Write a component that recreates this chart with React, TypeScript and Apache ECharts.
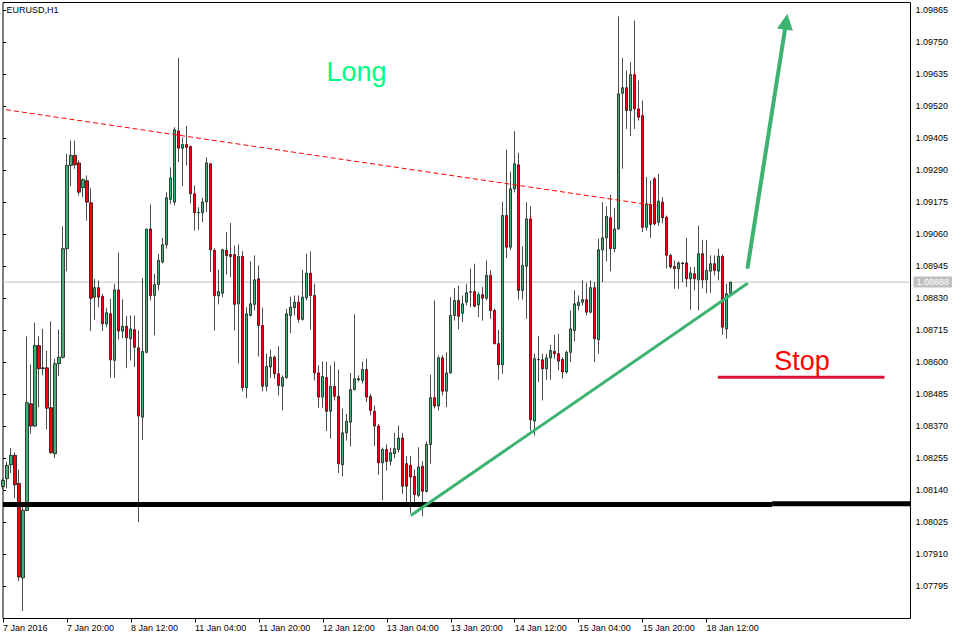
import React, { useEffect, useRef } from "react";
import * as echarts from "echarts";

// Trading sessions (day label, first hour, last hour) used for the hourly category axis
const SESSIONS: [string, number, number][] = [
  ["7 Jan", 4, 23], ["8 Jan", 0, 23], ["11 Jan", 0, 23], ["12 Jan", 0, 23],
  ["13 Jan", 0, 23], ["14 Jan", 0, 23], ["15 Jan", 0, 23], ["18 Jan", 0, 23],
  ["19 Jan", 0, 23], ["20 Jan", 0, 15],
];
const TICK_LABELS = [
  "7 Jan 2016", "7 Jan 20:00", "8 Jan 12:00", "11 Jan 04:00", "11 Jan 20:00", "12 Jan 12:00",
  "13 Jan 04:00", "13 Jan 20:00", "14 Jan 12:00", "15 Jan 04:00", "15 Jan 20:00", "18 Jan 12:00",
];
const TICK_EVERY = 16;
const Y_TICKS = [
  1.07795, 1.0791, 1.08025, 1.0814, 1.08255, 1.0837, 1.08485, 1.086, 1.08715, 1.0883,
  1.08945, 1.0906, 1.09175, 1.0929, 1.09405, 1.0952, 1.09635, 1.0975, 1.09865,
];
const Y_MIN = 1.0768;
const Y_MAX = 1.09892;
const LAST_PRICE = 1.08888;

const OPEN = [
  1.08154,1.08182,1.08232,1.08266,1.08165,1.07826,1.08068,1.08451,1.08371,1.08660,
  1.08580,1.08580,1.08437,1.08272,1.08595,1.08618,1.09008,1.09307,1.09343,1.09316,
  1.09227,1.09252,1.09173,1.08834,1.08868,1.08837,1.08738,1.08774,1.08607,1.08860,
  1.08712,1.08729,1.08685,1.08717,1.08652,1.08403,1.08636,1.09079,1.08840,1.08879,
  1.08960,1.09022,1.09185,1.09175,1.09431,1.09369,1.09382,1.09375,1.09205,1.09137,
  1.09137,1.09176,1.09313,1.09002,1.08839,1.08848,1.09002,1.08987,1.08987,1.08810,
  1.08980,1.08509,1.08768,1.08808,1.08900,1.08732,1.08514,1.08583,1.08618,1.08559,
  1.08514,1.08545,1.08768,1.08796,1.08816,1.08754,1.08832,1.08920,1.08840,1.08562,
  1.08475,1.08545,1.08424,1.08513,1.08478,1.08232,1.08347,1.08385,1.08502,1.08537,
  1.08535,1.08574,1.08477,1.08424,1.08371,1.08239,1.08287,1.08245,1.08272,1.08287,
  1.08328,1.08236,1.08230,1.08190,1.08122,1.08227,1.08136,1.08305,1.08473,1.08443,
  1.08616,1.08496,1.08562,1.08768,1.08822,1.08776,1.08816,1.08852,1.08854,1.08806,
  1.08843,1.08830,1.08912,1.08786,1.08667,1.08591,1.09127,1.09013,1.09223,1.09309,
  1.08858,1.08945,1.09115,1.08389,1.08609,1.08609,1.08577,1.08616,1.08639,1.08631,
  1.08610,1.08565,1.08636,1.08714,1.08804,1.08816,1.08825,1.08780,1.08868,1.08681,
  1.09004,1.09047,1.09119,1.09008,1.09079,1.09566,1.09586,1.09504,1.09633,1.09510,
  1.09486,1.09085,1.09167,1.09259,1.09103,1.09175,1.09121,1.08984,1.08944,1.08936,
  1.08957,1.08957,1.08900,1.08918,1.08896,1.08990,1.08896,1.08927,1.08954,1.08927,
  1.08980,1.08720,1.08846,
];
const CLOSE = [
  1.08176,1.08230,1.08266,1.08160,1.07829,1.08068,1.08455,1.08371,1.08660,1.08577,
  1.08578,1.08435,1.08275,1.08595,1.08618,1.09008,1.09307,1.09343,1.09309,1.09211,
  1.09256,1.09175,1.08830,1.08868,1.08834,1.08738,1.08778,1.08609,1.08860,1.08712,
  1.08729,1.08688,1.08720,1.08654,1.08407,1.08639,1.09078,1.08840,1.08879,1.08966,
  1.09022,1.09191,1.09262,1.09435,1.09369,1.09382,1.09372,1.09205,1.09137,1.09138,
  1.09176,1.09316,1.09004,1.08839,1.08854,1.09004,1.08983,1.08980,1.08808,1.08980,
  1.08509,1.08774,1.08810,1.08896,1.08732,1.08514,1.08585,1.08618,1.08559,1.08517,
  1.08545,1.08774,1.08798,1.08816,1.08754,1.08834,1.08920,1.08840,1.08562,1.08475,
  1.08549,1.08424,1.08513,1.08478,1.08236,1.08347,1.08388,1.08502,1.08541,1.08541,
  1.08574,1.08475,1.08427,1.08371,1.08239,1.08287,1.08244,1.08275,1.08290,1.08328,
  1.08155,1.08155,1.08188,1.08125,1.08224,1.08137,1.08305,1.08473,1.08443,1.08616,
  1.08496,1.08562,1.08768,1.08822,1.08765,1.08810,1.08850,1.08853,1.08801,1.08843,
  1.08830,1.08912,1.08786,1.08667,1.08591,1.09127,1.09013,1.09223,1.09313,1.08858,
  1.08948,1.09115,1.08394,1.08613,1.08610,1.08577,1.08616,1.08642,1.08631,1.08604,
  1.08565,1.08636,1.08720,1.08810,1.08816,1.08825,1.08780,1.08868,1.08685,1.09004,
  1.09047,1.09124,1.09008,1.09079,1.09564,1.09586,1.09504,1.09633,1.09510,1.09480,
  1.09085,1.09169,1.09095,1.09097,1.09179,1.09119,1.08984,1.08942,1.08936,1.08957,
  1.08954,1.08900,1.08921,1.08900,1.08990,1.08896,1.08930,1.08954,1.08930,1.08981,
  1.08726,1.08846,1.08888,
];
const LOW = [
  1.08146,1.08147,1.08202,1.08112,1.07814,1.07707,1.08066,1.08344,1.08368,1.08439,
  1.08553,1.08359,1.08273,1.08256,1.08550,1.08613,1.08927,1.09232,1.09295,1.09199,
  1.09193,1.09109,1.08712,1.08753,1.08798,1.08712,1.08726,1.08545,1.08545,1.08682,
  1.08686,1.08579,1.08607,1.08583,1.08026,1.08321,1.08632,1.08822,1.08697,1.08858,
  1.08955,1.09008,1.09169,1.09163,1.09319,1.09232,1.09307,1.09171,1.09073,1.09076,
  1.09103,1.09139,1.08924,1.08714,1.08808,1.08834,1.08915,1.08906,1.08714,1.08596,
  1.08496,1.08471,1.08765,1.08786,1.08621,1.08496,1.08496,1.08545,1.08541,1.08481,
  1.08427,1.08541,1.08705,1.08768,1.08742,1.08750,1.08822,1.08717,1.08535,1.08437,
  1.08437,1.08353,1.08326,1.08463,1.08202,1.08190,1.08319,1.08298,1.08499,1.08531,
  1.08524,1.08457,1.08409,1.08299,1.08196,1.08104,1.08212,1.08230,1.08255,1.08276,
  1.08128,1.08094,1.08058,1.08092,1.08116,1.08047,1.08133,1.08236,1.08434,1.08427,
  1.08481,1.08439,1.08559,1.08750,1.08718,1.08744,1.08804,1.08798,1.08798,1.08762,
  1.08750,1.08822,1.08756,1.08664,1.08537,1.08559,1.08974,1.09002,1.09210,1.08825,
  1.08825,1.08756,1.08355,1.08337,1.08529,1.08463,1.08537,1.08537,1.08613,1.08571,
  1.08541,1.08559,1.08601,1.08675,1.08786,1.08804,1.08768,1.08775,1.08601,1.08631,
  1.08888,1.08963,1.08927,1.08995,1.09076,1.09295,1.09438,1.09412,1.09438,1.09468,
  1.09067,1.09073,1.09047,1.09091,1.09091,1.09100,1.08937,1.08936,1.08864,1.08864,
  1.08888,1.08870,1.08789,1.08858,1.08786,1.08865,1.08848,1.08850,1.08912,1.08894,
  1.08699,1.08685,1.08840,
];
const HIGH = [
  1.08182,1.08244,1.08292,1.08276,1.08215,1.08082,1.08693,1.08592,1.08742,1.08693,
  1.08720,1.08642,1.08747,1.08613,1.08718,1.09088,1.09349,1.09396,1.09396,1.09325,
  1.09260,1.09271,1.09225,1.08900,1.08894,1.08846,1.08796,1.08828,1.08882,1.08994,
  1.08826,1.08766,1.08768,1.08768,1.08714,1.08903,1.09080,1.09167,1.08918,1.08990,
  1.09047,1.09211,1.09300,1.09444,1.09693,1.09408,1.09449,1.09378,1.09235,1.09157,
  1.09191,1.09336,1.09314,1.09009,1.08933,1.09008,1.09067,1.09100,1.09019,1.09023,
  1.08999,1.08798,1.08963,1.08984,1.08948,1.08796,1.08631,1.08646,1.08625,1.08658,
  1.08553,1.08792,1.08836,1.08840,1.08840,1.08932,1.08990,1.08998,1.08882,1.08589,
  1.08603,1.08601,1.08589,1.08603,1.08574,1.08433,1.08415,1.08562,1.08772,1.08553,
  1.08603,1.08613,1.08487,1.08445,1.08379,1.08294,1.08305,1.08293,1.08347,1.08373,
  1.08346,1.08263,1.08263,1.08215,1.08295,1.08245,1.08316,1.08556,1.08822,1.08625,
  1.08625,1.08636,1.08834,1.08866,1.08876,1.08840,1.08882,1.08936,1.08954,1.08852,
  1.08870,1.08966,1.08930,1.08793,1.08717,1.09177,1.09364,1.09285,1.09430,1.09352,
  1.09016,1.09175,1.09160,1.08631,1.08694,1.08631,1.08631,1.08663,1.08699,1.08702,
  1.08618,1.08642,1.08786,1.08858,1.08840,1.08894,1.08885,1.08894,1.08888,1.09044,
  1.09175,1.09160,1.09202,1.09155,1.09842,1.09693,1.09648,1.09678,1.09827,1.09612,
  1.09540,1.09265,1.09253,1.09265,1.09277,1.09193,1.09127,1.08990,1.08966,1.08963,
  1.08960,1.09047,1.08942,1.08942,1.09091,1.09040,1.09040,1.08984,1.08984,1.09008,
  1.08987,1.08882,1.08888,
];

// Drawn annotations: [bar position, price]
const SUPPORT_LEFT = [[0, 1.08089], [192.4, 1.08089]];
const SUPPORT_RIGHT = [[192.4, 1.08092], [227, 1.08092]];
const RESISTANCE = [[0.75, 1.09507], [163.5, 1.09162]];
const TRENDLINE = [[102, 1.0805], [186.3, 1.08884]];
const ARROW = [[186.2, 1.08936], [195.9, 1.09823]];
const STOP_LINE = [[178.8, 1.08546], [220.5, 1.08546]];

const FONT = '"Liberation Sans", Arial, sans-serif';

const CATEGORIES: string[] = [];
for (const [d, h0, h1] of SESSIONS) {
  for (let h = h0; h <= h1; h++) CATEGORIES.push(`${d} ${String(h).padStart(2, "0")}:00`);
}
const LAST_INDEX = CATEGORIES.length - 1;
const PRICE_LINE = [[0, LAST_PRICE], [LAST_INDEX, LAST_PRICE]];

const showTick = (idx: number) => idx % TICK_EVERY === 0 && idx / TICK_EVERY < TICK_LABELS.length;

function lineSeries(name: string, data: number[][], color: string, width: number, type: any = "solid", z = 5) {
  return {
    name,
    type: "line",
    xAxisIndex: 1,
    yAxisIndex: 0,
    data,
    symbol: "none",
    showSymbol: false,
    silent: true,
    z,
    lineStyle: { color, width, type, cap: "butt" },
    emphasis: { disabled: true },
  };
}

export default function App() {
  const ref = useRef<HTMLDivElement>(null);
  useEffect(() => {
    const chart = echarts.init(ref.current!, null, { renderer: "svg" });
    const candles = OPEN.map((o, i) => [o, CLOSE[i], LOW[i], HIGH[i]]);
    chart.setOption({
      animation: false,
      backgroundColor: "#ffffff",
      textStyle: { fontFamily: FONT },
      grid: { left: 2.5, right: 52.5, top: 2.5, bottom: 20.5, show: true, borderColor: "#000", borderWidth: 1, backgroundColor: "transparent" },
      xAxis: [
        {
          type: "category",
          data: CATEGORIES,
          boundaryGap: false,
          axisLine: { show: false },
          axisTick: { show: true, interval: showTick, length: 4, lineStyle: { color: "#000", width: 1 } },
          axisLabel: {
            interval: showTick,
            formatter: (_v: string, idx: number) => TICK_LABELS[idx / TICK_EVERY] ?? "",
            align: "left",
            margin: 5,
            fontSize: 9,
            color: "#000",
            fontFamily: FONT,
          },
          splitLine: { show: false },
        },
        { type: "value", min: 0, max: LAST_INDEX, show: false },
      ],
      yAxis: {
        type: "value",
        position: "right",
        min: Y_MIN,
        max: Y_MAX,
        axisLine: { show: false },
        splitLine: { show: false },
        axisTick: { show: true, length: 3, customValues: Y_TICKS, lineStyle: { color: "#000" } },
        axisLabel: {
          customValues: Y_TICKS,
          formatter: (v: number) => v.toFixed(5),
          margin: 5,
          fontSize: 9,
          color: "#000",
          fontFamily: FONT,
        },
      },
      series: [
        {
          name: "price",
          type: "line",
          xAxisIndex: 1,
          yAxisIndex: 0,
          data: PRICE_LINE,
          symbol: "none",
          showSymbol: false,
          silent: true,
          z: 1,
          clip: false,
          lineStyle: { color: "#c0c0c0", width: 1 },
          emphasis: { disabled: true },
          endLabel: {
            show: true,
            distance: 3,
            formatter: () => LAST_PRICE.toFixed(5),
            color: "#fff",
            backgroundColor: "#c0c0c0",
            padding: [1, 3, 1, 3],
            fontSize: 9,
            fontFamily: FONT,
          },
        },
        {
          type: "candlestick",
          xAxisIndex: 0,
          yAxisIndex: 0,
          data: candles,
          barWidth: 2.6,
          silent: true,
          z: 3,
          itemStyle: {
            color: "#3cb371",
            color0: "#ff0000",
            borderColor: "#000",
            borderColor0: "#000",
            borderColorDoji: "#000",
            borderWidth: 0.7,
          },
        },
        lineSeries("resistance", RESISTANCE, "#ff0000", 1, [5, 3]),
        lineSeries("support-a", SUPPORT_LEFT, "#000000", 5),
        lineSeries("support-b", SUPPORT_RIGHT, "#000000", 5),
        lineSeries("trend", TRENDLINE, "#3cb371", 3),
        lineSeries("stop", STOP_LINE, "#dc143c", 3),
        {
          type: "line",
          xAxisIndex: 1,
          yAxisIndex: 0,
          data: [ARROW[0]],
          symbol: "none",
          silent: true,
          z: 6,
          markLine: {
            silent: true,
            symbol: ["none", "triangle"],
            symbolSize: 16,
            data: [[{ coord: ARROW[0] }, { coord: ARROW[1] }]],
            lineStyle: { color: "#3cb371", width: 4, type: "solid" },
            itemStyle: { color: "#3cb371" },
            label: { show: false },
            emphasis: { disabled: true },
          },
        },
      ],
      graphic: [
        { type: "text", x: 6.5, y: 9.7, silent: true, style: { text: "EURUSD,H1", font: `9px ${FONT}`, fill: "#000", verticalAlign: "middle", textVerticalAlign: "middle" } },
        { type: "text", x: 326.5, y: 71.7, silent: true, style: { text: "Long", font: `27px ${FONT}`, fill: "#00ff7f", verticalAlign: "middle", textVerticalAlign: "middle" } },
        { type: "text", x: 774.3, y: 361, silent: true, style: { text: "Stop", font: `27px ${FONT}`, fill: "#ff0000", verticalAlign: "middle", textVerticalAlign: "middle" } },
      ],
    });
    return () => chart.dispose();
  }, []);
  return (
    <div
      ref={ref}
      style={{ position: "absolute", left: 0, top: 0, width: 963, height: 639, background: "#fff" }}
    />
  );
}
